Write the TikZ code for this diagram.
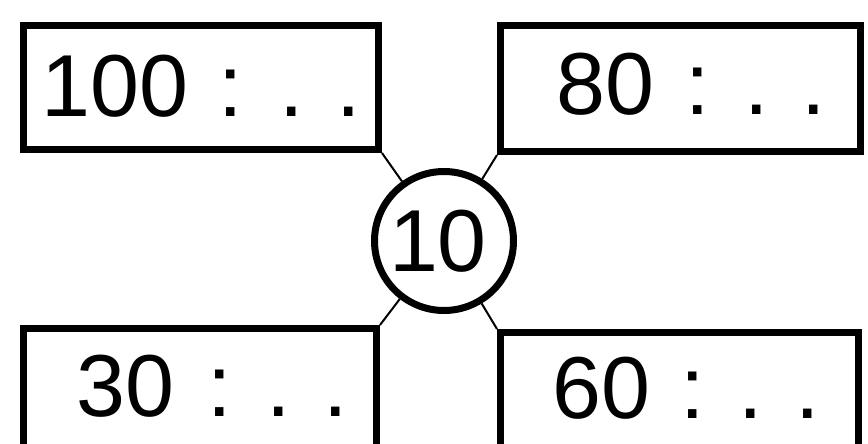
\documentclass[tikz,border=0pt]{standalone}
\usepackage{fontspec}
\setmainfont{Liberation Sans}
\begin{document}
\begin{tikzpicture}[x=1pt,y=-1pt,
  box/.style={draw=black,line width=7pt,rectangle,inner sep=0pt},
  ring/.style={draw=black,line width=7pt,circle,inner sep=0pt,minimum size=139pt},
  lbl/.style={inner sep=0pt,anchor=base west,font=\fontsize{88}{88}\selectfont},
  clbl/.style={inner sep=0pt,anchor=base,font=\fontsize{88}{88}\selectfont},
  link/.style={draw=black,line width=2pt}]
\useasboundingbox (0,0) rectangle (868,444);
\clip (0,0) rectangle (868,444);
\fill[white] (0,0) rectangle (868,444);
\node[box,minimum width=355pt,minimum height=124pt] (tl) at (201,87.5) {};
\node[box,minimum width=360pt,minimum height=126pt] (tr) at (680.5,88.5) {};
\node[box,minimum width=353pt,minimum height=151.5pt] (bl) at (200,404.25) {};
\node[box,minimum width=358pt,minimum height=147.5pt] (br) at (679.5,406.25) {};
\node[ring] (c) at (444,241) {};
\node[clbl] (ct) at (438,271) {10};
\draw[link] (tl.south east) -- (c);
\draw[link] (tr.south west) -- (c);
\draw[link] (bl.north east) -- (c);
\draw[link] (br.north west) -- (c);
\node[lbl] (t1) at (41,117) {100\hspace{6pt} : \hspace{4pt}. .};
\node[lbl] (t2) at (556,114) {80\hspace{7pt} : \hspace{2pt}. .};
\node[lbl] (t3) at (76,416) {30\hspace{9pt} : \hspace{2pt}. .};
\node[lbl] (t4) at (552,418) {60\hspace{6pt} : \hspace{1pt}. .};
\end{tikzpicture}
\end{document}
